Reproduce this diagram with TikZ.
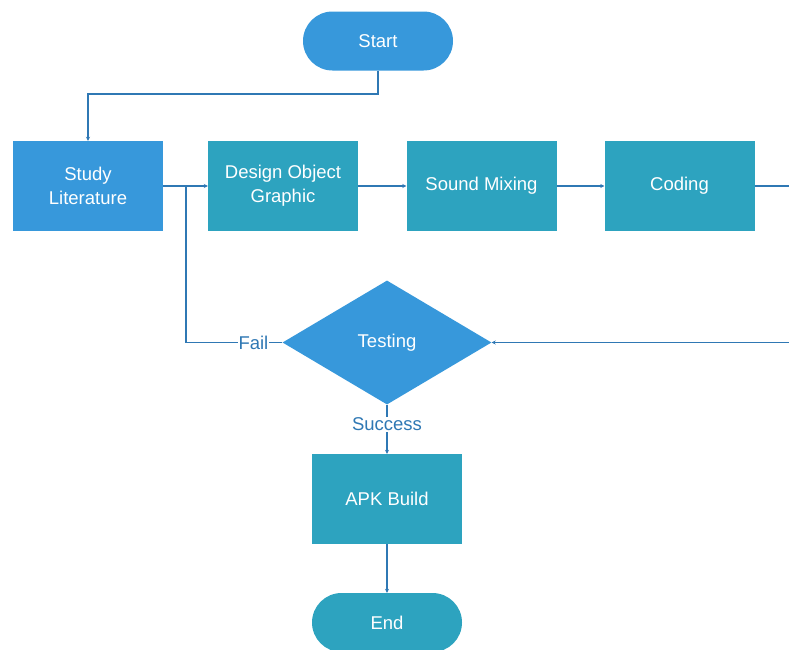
\documentclass[tikz,border=0pt]{standalone}
\usepackage{fontspec}
\setmainfont{Liberation Sans}
\usetikzlibrary{shapes.geometric,arrows.meta}
\definecolor{cblue}{HTML}{3798DB}
\definecolor{cteal}{HTML}{2DA3BF}
\definecolor{cline}{HTML}{2F78B4}
\tikzset{
  boxstyle/.style={rectangle, draw=none, text=white, minimum width=150pt, minimum height=90pt, inner sep=2pt, align=center, font=\fontsize{18.5}{24}\selectfont},
  pillstyle/.style={rectangle, rounded corners=29.5pt, draw=none, text=white, minimum width=150pt, minimum height=59pt, inner sep=0pt, font=\fontsize{18.5}{24}\selectfont},
  diamstyle/.style={diamond, draw=none, fill=cblue, text=white, minimum width=209pt, minimum height=124pt, inner sep=0pt, font=\fontsize{18.5}{24}\selectfont},
  conn/.style={draw=cline, line width=1.3pt},
  arr/.style={conn, -{Stealth[length=4pt,width=4pt]}},
  lbl/.style={fill=white, text=cline, inner sep=1pt, font=\fontsize{18.5}{24}\selectfont}
}
\begin{document}
\begin{tikzpicture}[x=1pt,y=-1pt]
\useasboundingbox (0,0) rectangle (789,649);
\node[pillstyle, fill=cblue] (start) at (378,41) {Start};
\node[boxstyle, fill=cblue] (study) at (88,186) {Study\\Literature};
\node[boxstyle, fill=cteal] (design) at (283,186) {Design Object\\Graphic};
\node[boxstyle, fill=cteal] (sound) at (481.5,186) {Sound Mixing};
\node[boxstyle, fill=cteal] (coding) at (679.5,186) {Coding};
\node[diamstyle] (testing) at (387,342.5) {Testing};
\node[boxstyle, fill=cteal] (apk) at (387,499) {APK Build};
\node[pillstyle, fill=cteal] (end) at (387,622.5) {End};
\coordinate (c1) at (378,94);
\coordinate (c2) at (186,342.5);
\coordinate (c3) at (186,186);
\coordinate (r1) at (790,186);
\coordinate (r2) at (790,342.5);
\draw[arr] (start.south) -- (c1) -| (study.north);
\draw[arr] (study.east) -- (design.west);
\draw[arr] (design.east) -- (sound.west);
\draw[arr] (sound.east) -- (coding.west);
\draw[conn] (coding.east) -- (r1);
\draw[arr] (r2) -- (testing.east);
\draw[conn] (testing.west) -- node[lbl, pos=0.3] {Fail} (c2) -- (c3);
\draw[arr] (testing.south) -- node[lbl, pos=0.4] {Success} (apk.north);
\draw[arr] (apk.south) -- (end.north);
\end{tikzpicture}
\end{document}
